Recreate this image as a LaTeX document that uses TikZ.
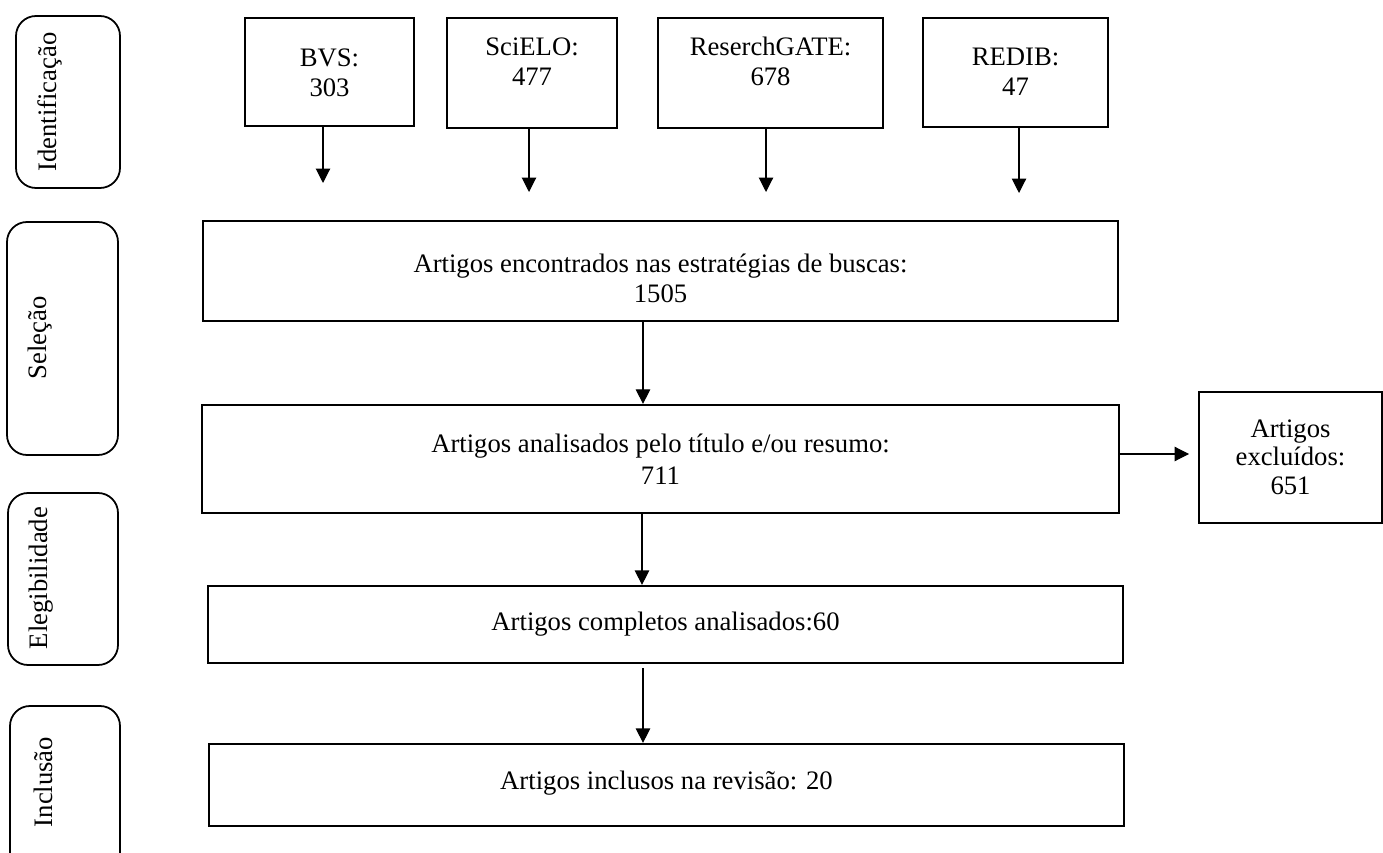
\documentclass[tikz,border=0pt]{standalone}
\usepackage{fontspec}
\setmainfont{Liberation Serif}
\usetikzlibrary{arrows.meta,fit}
\begin{document}
\begin{tikzpicture}[x=0.45pt,y=-0.45pt,
  every node/.style={font=\fontsize{12}{13.5}\selectfont},
  stage/.style={draw, rounded corners=9pt, line width=0.8pt, inner sep=0pt},
  stagetxt/.style={rotate=90, inner sep=0pt},
  src/.style={draw, line width=0.8pt, inner sep=0pt},
  srcbold/.style={draw, line width=1.3pt, inner sep=0pt},
  frame/.style={draw, line width=1pt, inner sep=0pt},
  txt/.style={align=center, inner sep=0pt},
  arr/.style={-{Triangle[length=6.5pt,width=6.5pt]}, line width=0.5pt}]
\useasboundingbox (0,0) rectangle (1383,853);
\clip (0,0) rectangle (1383,853);

% stage boxes
\node[stage, fit={(16,16) (120,188)}] (sId) {};
\node[stagetxt] (tId) at (50,102) {Identificação};
\node[stage, fit={(7,222) (118,455)}] (sSel) {};
\node[stagetxt] (tSel) at (40,338) {Seleção};
\node[stage, fit={(8,493) (118,665)}] (sEle) {};
\node[stagetxt] (tEle) at (41,578) {Elegibilidade};
\node[stage, fit={(10,706) (120,880)}] (sInc) {};
\node[stagetxt] (tInc) at (43,782) {Inclusão};

% sources
\node[src, fit={(245,18) (414,126)}] (bvs) {};
\node[txt] (tbvs) at (329.5,73) {BVS:\\303};
\node[srcbold, fit={(447,18) (617,128)}] (sci) {};
\node[txt] (tsci) at (532,62) {SciELO:\\477};
\node[srcbold, fit={(658,18) (883,128)}] (rg) {};
\node[txt] (trg) at (770.5,61) {ReserchGATE:\\678};
\node[src, fit={(923,18) (1108,127)}] (redib) {};
\node[txt] (tredib) at (1015.5,72) {REDIB:\\47};

% main flow
\node[frame, fit={(203,221) (1118,321)}] (b1) {};
\node[txt] (tb1) at (660.5,278) {Artigos encontrados nas estratégias de buscas:\\1505};
\node[frame, fit={(202,405) (1119,513)}] (b2) {};
\node[txt, font=\fontsize{12}{14.5}\selectfont] (tb2) at (660.5,459) {Artigos analisados pelo título e/ou resumo:\\711};
\node[frame, fit={(1199,392) (1382,523)}] (ex) {};
\node[txt, font=\fontsize{12}{12.8}\selectfont] (tex) at (1290.5,457) {Artigos\\excluídos:\\651};
\node[frame, fit={(208,586) (1123,663)}] (b3) {};
\node[txt] (tb3) at (665.5,624) {Artigos completos analisados:60};
\node[frame, fit={(209,744) (1124,826)}] (b4) {};
\node[txt] (tb4) at (666.5,783) {Artigos inclusos na revisão: 20};

% arrows
\coordinate (a1) at (323,183);
\coordinate (a2) at (529,192);
\coordinate (a3) at (766,192);
\coordinate (a4) at (1019,193);
\draw[arr] (bvs.south -| a1) -- (a1);
\draw[arr] (sci.south -| a2) -- (a2);
\draw[arr] (rg.south -| a3) -- (a3);
\draw[arr] (redib.south -| a4) -- (a4);

\coordinate (m1) at (643,0);
\coordinate (m2) at (642,0);
\coordinate (m3) at (643,0);
\coordinate (hy) at (0,454);
\draw[arr] (b1.south -| m1) -- (b2.north -| m1);
\draw[arr] (b2.south -| m2) -- (b3.north -| m2);
\draw[arr, shorten <=1.8pt] (b3.south -| m3) -- (b4.north -| m3);
\draw[arr, shorten >=4pt] (b2.east |- hy) -- (ex.west |- hy);
\end{tikzpicture}
\end{document}
